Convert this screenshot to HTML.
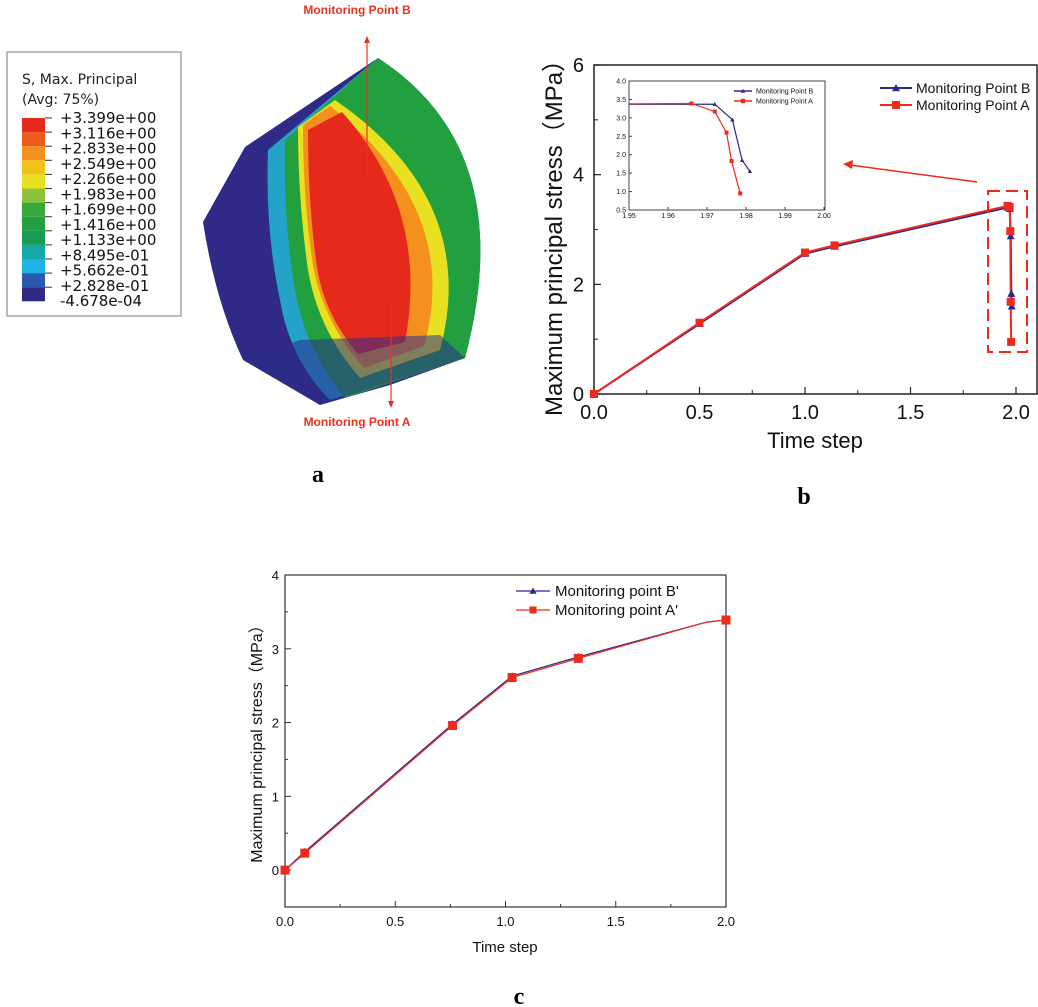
<!DOCTYPE html>
<html><head><meta charset="utf-8">
<style>
body{margin:0;background:#fff;}
svg{display:block;font-family:"Liberation Sans",Arial,sans-serif;}
</style></head>
<body>
<svg id="fig" width="1038" height="1007" viewBox="0 0 1038 1007">
<g>
  <path d="M203,222 L245,147 L378,58 Q520,150 465,358 L390,385 L320,405 L243,360 Q215,300 203,222 Z" fill="#2e2a86"/>
  <path d="M268,150 L378,58 Q520,150 465,358 L330,400 Q290,360 280,300 Q265,230 268,150 Z" fill="#23a3c8"/>
  <path d="M285,140 L378,58 Q520,150 465,358 L345,398 Q305,350 295,290 Q283,220 285,140 Z" fill="#22a040"/>
  <path d="M298,127 L335,100 Q480,200 440,350 L360,378 Q318,330 308,270 Q298,200 298,127 Z" fill="#e8e020"/>
  <path d="M303,125 L330,106 Q462,210 424,346 L364,368 Q323,322 313,265 Q303,200 303,125 Z" fill="#f3901e"/>
  <path d="M308,130 L342,112 Q430,210 405,342 L358,354 Q322,312 316,260 Q308,200 308,130 Z" fill="#e52a1c"/>
  <path d="M245,360 L320,405 L465,358 L440,335 L300,340 Z" fill="#2c2e8a" opacity="0.55"/>
</g>
<line x1="367" y1="180" x2="367" y2="40" stroke="#e8321e" stroke-width="1.2"/>
<path d="M367,36 L364,43 L370,43 Z" fill="#e8321e"/>
<line x1="391" y1="300" x2="391" y2="404" stroke="#e8321e" stroke-width="1.2"/>
<path d="M391,408 L388,401 L394,401 Z" fill="#e8321e"/>
<text x="357" y="14" font-size="12" font-weight="bold" fill="#e8321e" text-anchor="middle">Monitoring Point B</text>
<text x="357" y="426" font-size="12" font-weight="bold" fill="#e8321e" text-anchor="middle">Monitoring Point A</text>
<g id="legendA">
  <rect x="7" y="52" width="174" height="264" fill="#fff" stroke="#777" stroke-width="1"/>
  <text x="22" y="84" font-size="14" font-family="DejaVu Sans,sans-serif" fill="#222">S, Max. Principal</text>
  <text x="22" y="104" font-size="14" font-family="DejaVu Sans,sans-serif" fill="#222">(Avg: 75%)</text>
</g>
<text x="318" y="482" font-size="24" font-weight="bold" font-family="Liberation Serif,serif" text-anchor="middle">a</text>
<text x="804" y="504" font-size="24" font-weight="bold" font-family="Liberation Serif,serif" text-anchor="middle">b</text>
<text x="519" y="1004" font-size="24" font-weight="bold" font-family="Liberation Serif,serif" text-anchor="middle">c</text>
<g id="chartB"></g>
<g id="chartC"></g>
</svg>
<script>
const NS="http://www.w3.org/2000/svg";
const contourLabels=["+3.399e+00","+3.116e+00","+2.833e+00","+2.549e+00","+2.266e+00","+1.983e+00","+1.699e+00","+1.416e+00","+1.133e+00","+8.495e-01","+5.662e-01","+2.828e-01","-4.678e-04"];
const contourColors=["#e52a1c","#ed5a1c","#f3901e","#f2c21a","#e8e020","#8cc33a","#38a83a","#22a040","#199a55","#16a7a8","#1eb4e6","#2d58b0","#2e2a86"];
const bTimeB=[0,0.5,1.0,1.14,1.96,1.97,1.975,1.978,1.98];
const bStressB=[0,1.28,2.56,2.69,3.40,3.38,2.88,1.83,1.60];
const bTimeA=[0,0.5,1.0,1.14,1.96,1.97,1.973,1.975,1.977];
const bStressA=[0,1.30,2.58,2.71,3.43,3.41,2.97,1.68,0.95];
const bXTicks=["0.0","0.5","1.0","1.5","2.0"];
const bYTicks=["0","2","4","6"];
const inTimeB=[1.95,1.972,1.9765,1.979,1.981];
const inStressB=[3.37,3.37,2.95,1.85,1.55];
const inTimeA=[1.95,1.966,1.972,1.975,1.9763,1.9785];
const inStressA=[3.38,3.39,3.17,2.6,1.83,0.95];
const inXTicks=["1.95","1.96","1.97","1.98","1.99","2.00"];
const inYTicks=["0.5","1.0","1.5","2.0","2.5","3.0","3.5","4.0"];
const cTime=[0,0.09,0.76,1.03,1.33,1.91,2.0];
const cStressB=[0,0.25,1.98,2.63,2.89,3.36,3.39];
const cStressA=[0,0.23,1.96,2.61,2.87,3.36,3.39];
const cMarker=[true,true,true,true,true,false,true];
const cXTicks=["0.0","0.5","1.0","1.5","2.0"];
const cYTicks=["0","1","2","3","4"];

function el(tag,attrs,parent){const e=document.createElementNS(NS,tag);for(const k in attrs)e.setAttribute(k,attrs[k]);parent.appendChild(e);return e;}
function txt(parent,x,y,s,size,anchor,extra){const t=el('text',Object.assign({x:x,y:y,'font-size':size,'text-anchor':anchor||'start',fill:'#111'},extra||{}),parent);t.textContent=s;return t;}

const lg=document.getElementById('legendA');
const bandH=14.1;
contourColors.forEach((c,i)=>{
  const r=el('rect',{x:22,y:118+i*bandH,width:23,height:bandH,fill:c},lg);
  
  
});
contourLabels.forEach((s,i)=>{
  const yy=118+i*bandH;
  el('line',{x1:45,x2:52,y1:yy,y2:yy,stroke:'#333'},lg);
  const t=txt(lg,60,yy+5+i*1.15,s,15,'start',{'font-family':'DejaVu Sans,sans-serif',fill:'#111'});
  
  
});

function tri(g,x,y,s,c){return el('path',{d:`M${x},${y-s} L${x-s},${y+s*0.8} L${x+s},${y+s*0.8} Z`,fill:c},g);}
function sq(g,x,y,s,c){return el('rect',{x:x-s,y:y-s,width:2*s,height:2*s,fill:c},g);}

(function(){
  const g=document.getElementById('chartB');
  const x0=594,x1=1016,y0=394,y1=65;
  const X=v=>x0+(v-0)/(2.0)*(x1-x0), Y=v=>y0-(v/6)*(y0-y1);
  const fr=el('rect',{x:594,y:65,width:443,height:329,fill:'none',stroke:'#222','stroke-width':1.5},g);
  
  bXTicks.forEach((s,i)=>{const v=parseFloat(s);el('line',{x1:X(v),x2:X(v),y1:y0,y2:y0-7,stroke:'#222','stroke-width':1.2},g);
    const t=txt(g,X(v),y0+25,s,20,'middle');
    if(i<bXTicks.length-1)el('line',{x1:X(v+0.25),x2:X(v+0.25),y1:y0,y2:y0-4,stroke:'#222'},g);});
  bYTicks.forEach((s,i)=>{const v=parseFloat(s);el('line',{x1:x0,x2:x0+7,y1:Y(v),y2:Y(v),stroke:'#222','stroke-width':1.2},g);
    const t=txt(g,x0-10,Y(v)+7,s,20,'end');
    if(i<bYTicks.length-1)el('line',{x1:x0,x2:x0+4,y1:Y(v+1),y2:Y(v+1),stroke:'#222'},g);});
  const xt=txt(g,815,448,'Time step',22,'middle');
  const yt=txt(g,0,0,'Maximum principal stress（MPa）',24,'middle',{transform:'translate(562,232) rotate(-90)','font-family':'"Liberation Sans","Noto Sans CJK SC",sans-serif'});
  
  const pB=el('polyline',{points:bTimeB.map((t,i)=>X(t)+','+Y(bStressB[i])).join(' '),fill:'none',stroke:'#2a2a8c','stroke-width':2},g);
  
  const pA=el('polyline',{points:bTimeA.map((t,i)=>X(t)+','+Y(bStressA[i])).join(' '),fill:'none',stroke:'#ee2a1c','stroke-width':2},g);
  
  bTimeB.forEach((t,i)=>{const m=tri(g,X(t),Y(bStressB[i]),4,'#2a2a8c');});
  bTimeA.forEach((t,i)=>{const m=sq(g,X(t),Y(bStressA[i]),4,'#ee2a1c');});
  const lgB=[['Monitoring Point B','#2a2a8c',tri,88],['Monitoring Point A','#ee2a1c',sq,105]];
  lgB.forEach(a=>{el('line',{x1:880,x2:912,y1:a[3],y2:a[3],stroke:a[1],'stroke-width':2},g);a[2](g,896,a[3],4,a[1]);
    const t=txt(g,916,a[3]+5,a[0],14,'start');});
  const dr=el('rect',{x:988,y:191,width:39,height:161,fill:'none',stroke:'#ee2a1c','stroke-width':2,'stroke-dasharray':'12,6'},g);
  
  el('line',{x1:977,y1:182,x2:850,y2:165,stroke:'#ee2a1c','stroke-width':1.5},g);
  el('path',{d:'M843,164 L853,160 L852,169 Z',fill:'#ee2a1c'},g);
  const ix0=629,ix1=824,iy0=210,iy1=81;
  const IX=v=>ix0+(v-1.95)/0.05*(ix1-ix0), IY=v=>iy0-(v-0.5)/3.5*(iy0-iy1);
  const ifr=el('rect',{x:ix0,y:iy1,width:ix1-ix0+1,height:iy0-iy1,fill:'#fff',stroke:'#444','stroke-width':1},g);
  
  inXTicks.forEach(s=>{const v=parseFloat(s);el('line',{x1:IX(v),x2:IX(v),y1:iy0,y2:iy0-3,stroke:'#444'},g);
    const t=txt(g,IX(v),iy0+8,s,7,'middle');});
  inYTicks.forEach(s=>{const v=parseFloat(s);el('line',{x1:ix0,x2:ix0+3,y1:IY(v),y2:IY(v),stroke:'#444'},g);
    const t=txt(g,ix0-3,IY(v)+2.5,s,7,'end');});
  const iB=el('polyline',{points:inTimeB.map((t,i)=>IX(t)+','+IY(inStressB[i])).join(' '),fill:'none',stroke:'#2a2a8c','stroke-width':1.2},g);
  
  const iA=el('polyline',{points:inTimeA.map((t,i)=>IX(t)+','+IY(inStressA[i])).join(' '),fill:'none',stroke:'#ee2a1c','stroke-width':1.2},g);
  
  inTimeB.forEach((t,i)=>{if(i>0){const m=tri(g,IX(t),IY(inStressB[i]),2.2,'#2a2a8c');}});
  inTimeA.forEach((t,i)=>{if(i>0){const m=sq(g,IX(t),IY(inStressA[i]),2,'#ee2a1c');}});
  [['Monitoring Point B','#2a2a8c',tri,91],['Monitoring Point A','#ee2a1c',sq,101]].forEach(a=>{
    el('line',{x1:734,x2:752,y1:a[3],y2:a[3],stroke:a[1],'stroke-width':1.5},g);a[2](g,743,a[3],2.2,a[1]);
    const t=txt(g,756,a[3]+2.5,a[0],7,'start');});
})();

(function(){
  const g=document.getElementById('chartC');
  const x0=285,x1=726,yTop=575,yBot=907;
  const X=v=>x0+v/2*(x1-x0), Y=v=>yBot-(v+0.5)/4.5*(yBot-yTop);
  const fr=el('rect',{x:x0,y:yTop,width:x1-x0,height:yBot-yTop,fill:'none',stroke:'#333','stroke-width':1.2},g);
  
  cXTicks.forEach((s,i)=>{const v=parseFloat(s);el('line',{x1:X(v),x2:X(v),y1:yBot,y2:yBot-6,stroke:'#333'},g);
    const t=txt(g,X(v),yBot+19,s,13,'middle');
    if(i<cXTicks.length-1)el('line',{x1:X(v+0.25),x2:X(v+0.25),y1:yBot,y2:yBot-3,stroke:'#333'},g);});
  cYTicks.forEach(s=>{const v=parseFloat(s);el('line',{x1:x0,x2:x0+6,y1:Y(v),y2:Y(v),stroke:'#333'},g);
    const t=txt(g,x0-6,Y(v)+5,s,13,'end');
    el('line',{x1:x0,x2:x0+3,y1:Y(v-0.5),y2:Y(v-0.5),stroke:'#333'},g);});
  const xt=txt(g,505,952,'Time step',15,'middle');
  const yt=txt(g,0,0,'Maximum principal stress（MPa）',16,'middle',{transform:'translate(262,740) rotate(-90)','font-family':'"Liberation Sans","Noto Sans CJK SC",sans-serif'});
  
  const lB=el('polyline',{points:cTime.map((t,i)=>X(t)+','+Y(cStressB[i])).join(' '),fill:'none',stroke:'#2a2a8c','stroke-width':1.2},g);
  
  const lA=el('polyline',{points:cTime.map((t,i)=>X(t)+','+Y(cStressA[i])).join(' '),fill:'none',stroke:'#ee2a1c','stroke-width':1.2},g);
  
  cTime.forEach((t,i)=>{if(!cMarker[i])return;
    const m=tri(g,X(t),Y(cStressB[i]),4,'#2a2a8c');
    const n=sq(g,X(t),Y(cStressA[i]),4.5,'#ee2a1c');});
  [["Monitoring point B'",'#2a2a8c',tri,591],["Monitoring point A'",'#ee2a1c',sq,610]].forEach(a=>{
    el('line',{x1:516,x2:550,y1:a[3],y2:a[3],stroke:a[1],'stroke-width':1.2},g);a[2](g,533,a[3],3.5,a[1]);
    const t=txt(g,555,a[3]+5,a[0],15,'start');});
})();
</script>
</body></html>
